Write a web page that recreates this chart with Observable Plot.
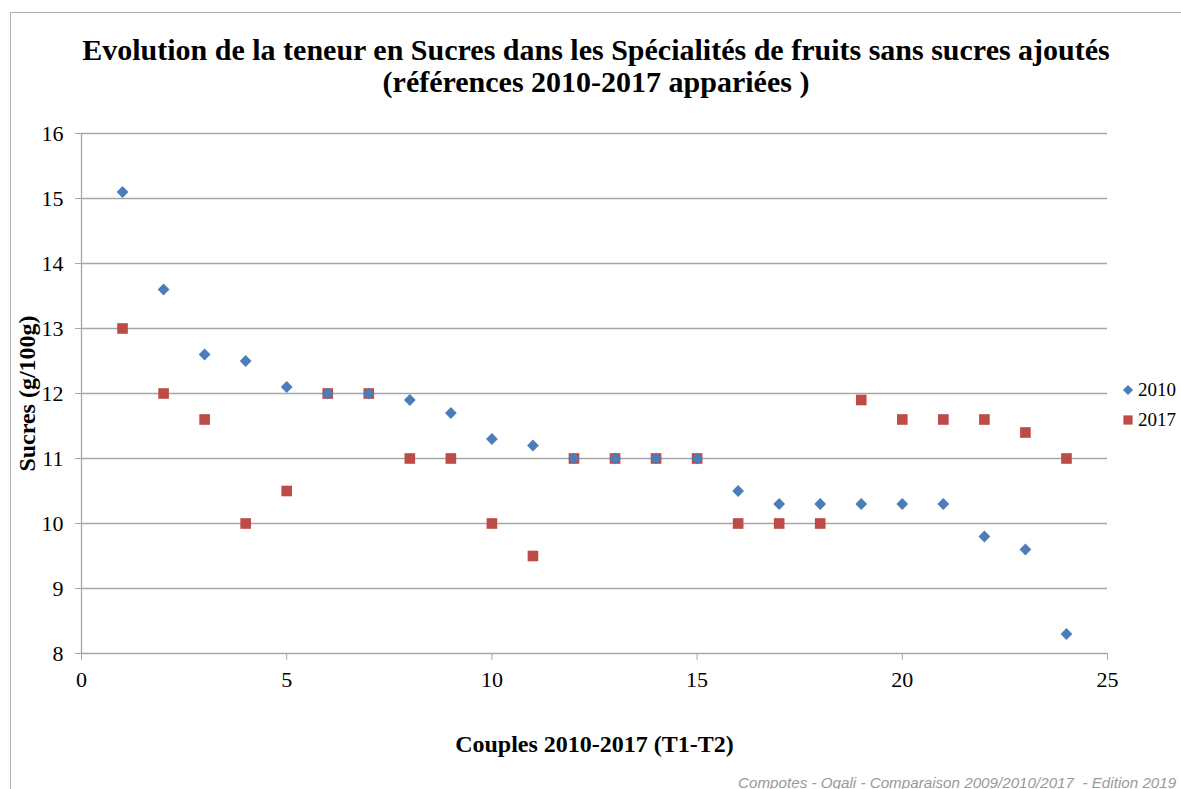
<!DOCTYPE html>
<html>
<head>
<meta charset="utf-8">
<script src="https://cdn.jsdelivr.net/npm/d3@7"></script>
<script src="https://cdn.jsdelivr.net/npm/@observablehq/plot@0.6"></script>
<style>
  html, body { margin: 0; padding: 0; background: #fff; }
  body { width: 1181px; height: 789px; position: relative; overflow: hidden; }
  #frame { position: absolute; left: 10px; top: 12px; width: 1200px; height: 800px; border-left: 1px solid #b0b0b0; border-top: 1px solid #b0b0b0; }
  #title { position: absolute; left: 0; width: 1192px; top: 34px; text-align: center; font-family: 'Liberation Serif', serif; font-weight: bold; font-size: 30px; line-height: 32px; color: #000; }
  #chart { position: absolute; left: 0; top: 110px; }
  #legend { position: absolute; left: 1120px; top: 375px; font-family: 'Liberation Serif', serif; font-size: 19px; color: #000; }
  #legend div { height: 30px; display: flex; align-items: center; }
  #caption { position: absolute; left: 738px; top: 774px; white-space: nowrap; font-family: 'Liberation Sans', sans-serif; font-style: italic; font-size: 15.2px; color: #9a9a9a; }
</style>
</head>
<body>
<div id="frame"></div>
<div id="title">Evolution de la teneur en Sucres dans les Spécialités de fruits sans sucres ajoutés<br>(références 2010-2017 appariées )</div>
<div id="chart"></div>
<div id="legend"></div>
<div id="caption">Compotes - Oqali - Comparaison 2009/2010/2017&nbsp; - Edition 2019</div>
<script>
const couples = [1,2,3,4,5,6,7,8,9,10,11,12,13,14,15,16,17,18,19,20,21,22,23,24];
const sucres2010 = [15.1,13.6,12.6,12.5,12.1,12.0,12.0,11.9,11.7,11.3,11.2,11.0,11.0,11.0,11.0,10.5,10.3,10.3,10.3,10.3,10.3,9.8,9.6,8.3];
const sucres2017 = [13.0,12.0,11.6,10.0,10.5,12.0,12.0,11.0,11.0,10.0,9.5,11.0,11.0,11.0,11.0,10.0,10.0,10.0,11.9,11.6,11.6,11.6,11.4,11.0];
const xTicks = [0,5,10,15,20,25];
const yTicks = [8,9,10,11,12,13,14,15,16];
const seriesNames = ["2010","2017"];
const colors = {"2010": "#4a7ebb", "2017": "#be4b48"};

const data2010 = couples.map((c,i) => ({x: c, y: sucres2010[i], s: "2010"}));
const data2017 = couples.map((c,i) => ({x: c, y: sucres2017[i], s: "2017"}));

const rDiamond = 5.3, rSquare = 6;
const gridColor = "#a6a6a6";
const chart = Plot.plot({
  width: 1181,
  height: 660,
  marginLeft: 81,
  marginRight: 74,
  marginTop: 23,
  marginBottom: 117,
  style: {fontFamily: "'Liberation Serif', serif", fontSize: "22px", color: "#000", background: "transparent"},
  x: {domain: [0, 25]},
  y: {domain: [8, 16]},
  marks: [
    Plot.gridY(yTicks, {stroke: gridColor, strokeOpacity: 1, strokeWidth: 1.3}),
    Plot.ruleX([0], {stroke: gridColor, strokeWidth: 1.3, y1: 8, y2: 16}),
    Plot.axisY(yTicks, {stroke: gridColor, tickSize: 6, tickPadding: 12, label: null, fontSize: 22, tickFormat: d3.format("d")}),
    Plot.axisX(xTicks, {stroke: gridColor, tickSize: 7, tickPadding: 11, label: null, fontSize: 22, tickFormat: d3.format("d")}),
    Plot.dot(data2017, {x: "x", y: "y", symbol: "square", r: rSquare, fill: colors["2017"], stroke: "none"}),
    Plot.dot(data2010, {x: "x", y: "y", symbol: d3.symbolDiamond2, r: rDiamond, fill: colors["2010"], stroke: "none"}),
    Plot.text(["Sucres (g/100g)"], {frameAnchor: "left", dx: -54, rotate: -90, textAnchor: "middle", fontWeight: "bold", fontSize: 24}),
    Plot.text(["Couples 2010-2017 (T1-T2)"], {frameAnchor: "bottom", dy: 91, lineAnchor: "middle", fontWeight: "bold", fontSize: 24})
  ]
});
document.getElementById("chart").appendChild(chart);

const legend = document.getElementById("legend");
for (const s of seriesNames) {
  const row = document.createElement("div");
  const svg = d3.create("svg").attr("width", 16).attr("height", 16).style("margin-right", "2px");
  const size = s === "2010" ? Math.PI * rDiamond * rDiamond : Math.PI * rSquare * rSquare;
  const type = s === "2010" ? d3.symbolDiamond2 : d3.symbolSquare;
  svg.append("path").attr("transform", "translate(8,8)").attr("d", d3.symbol(type, size * 0.75)()).attr("fill", colors[s]);
  row.appendChild(svg.node());
  const t = document.createElement("span");
  t.textContent = s;
  row.appendChild(t);
  legend.appendChild(row);
}
</script>
</body>
</html>
